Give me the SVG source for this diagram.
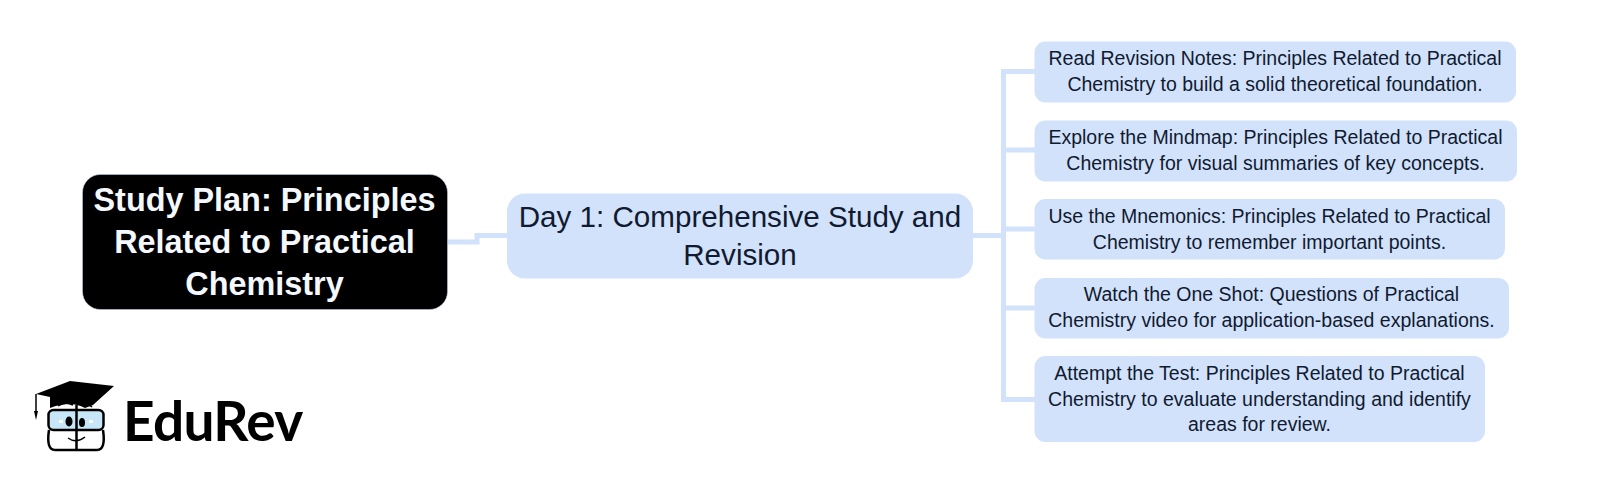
<svg xmlns="http://www.w3.org/2000/svg" width="1600" height="484" viewBox="0 0 1600 484">
<style>
.leaf{fill:#d2e2fb}
.lt{font:19.5px "Liberation Sans",Arial,sans-serif;fill:#101a30;text-anchor:middle}
.dt{font:29.6px "Liberation Sans",Arial,sans-serif;fill:#101a30;text-anchor:middle}
.rt{font:bold 32.4px "Liberation Sans",Arial,sans-serif;fill:#f4f8ff;text-anchor:middle}
.c{fill:none;stroke:#d2e2fb;stroke-width:5}
.k{fill:none;stroke:#000;stroke-width:2.500}
</style>
<rect width="1600" height="484" fill="#fff"/>
<g id="connectors">
<path class="c" d="M448 242H477V235.500H507"/>
<path class="c" d="M972 235.500H1003.500M1035 71.500H1003.500V399.500H1035M1003.500 150H1035M1003.500 229H1035M1003.500 308H1035"/>
</g>
<g id="root"><rect x="82.500" y="174.500" width="365" height="135" rx="18" fill="#000" stroke="#c9d8f2" stroke-opacity=".5"/>
<text class="rt" x="264.500" y="211">Study Plan: Principles</text>
<text class="rt" x="264.500" y="252.500">Related to Practical</text>
<text class="rt" x="264.500" y="294.500">Chemistry</text></g>
<g id="day1"><rect class="leaf" x="507" y="193.500" width="466" height="85" rx="18"/>
<text class="dt" x="740" y="227">Day 1: Comprehensive Study and</text>
<text class="dt" x="740" y="265">Revision</text></g>
<g id="leaf1"><rect class="leaf" x="1034.500" y="41.500" width="481.500" height="61" rx="11"/>
<text class="lt" x="1275" y="65">Read Revision Notes: Principles Related to Practical</text>
<text class="lt" x="1275" y="91">Chemistry to build a solid theoretical foundation.</text></g>
<g id="leaf2"><rect class="leaf" x="1034.500" y="120.500" width="482.500" height="61" rx="11"/>
<text class="lt" x="1275.500" y="144">Explore the Mindmap: Principles Related to Practical</text>
<text class="lt" x="1275.500" y="170">Chemistry for visual summaries of key concepts.</text></g>
<g id="leaf3"><rect class="leaf" x="1034.500" y="199" width="470.500" height="60.500" rx="11"/>
<text class="lt" x="1269.500" y="223">Use the Mnemonics: Principles Related to Practical</text>
<text class="lt" x="1269.500" y="248.500">Chemistry to remember important points.</text></g>
<g id="leaf4"><rect class="leaf" x="1034.500" y="278" width="474.500" height="60.500" rx="11"/>
<text class="lt" x="1271.500" y="301">Watch the One Shot: Questions of Practical</text>
<text class="lt" x="1271.500" y="327">Chemistry video for application-based explanations.</text></g>
<g id="leaf5"><rect class="leaf" x="1034.500" y="356" width="450.500" height="86" rx="11"/>
<text class="lt" x="1259.500" y="380">Attempt the Test: Principles Related to Practical</text>
<text class="lt" x="1259.500" y="406">Chemistry to evaluate understanding and identify</text>
<text class="lt" x="1259.500" y="431">areas for review.</text></g>
<g id="logo">
<path d="M36 394L70 381L114 386L93 405L85 408Q70 400 50 408V397Z" fill="#000"/>
<path d="M36 394V412" stroke="#000" stroke-width="1.500" fill="none"/>
<path d="M34 411H38L36 420Z" fill="#000"/>
<rect x="48.500" y="410" width="55" height="20" rx="5" fill="#c7e6f7" stroke="#000" stroke-width="2.500"/>
<path class="k" d="M49 430Q46 450 55 450H97Q106 450 103 430M76.500 405V450"/>
<path d="M58 406Q65 401 73 405M82 404Q88 403 92 407" fill="none" stroke="#000" stroke-width="1.500"/>
<ellipse cx="69" cy="421.500" rx="3.500" ry="5" fill="#000"/><ellipse cx="82" cy="422.500" rx="3" ry="4.500" fill="#000"/>
<rect x="59" y="420" width="4" height="3" fill="#fff"/><rect x="89" y="420" width="4" height="3" fill="#fff"/>
<path d="M68 438Q76 444 85 437" fill="none" stroke="#000" stroke-width="1.500"/>
<text x="123" y="441" style="font:bold 55px Lato,'Open Sans',sans-serif;fill:#000;letter-spacing:-.7px">EduRev</text>
</g>
</svg>
